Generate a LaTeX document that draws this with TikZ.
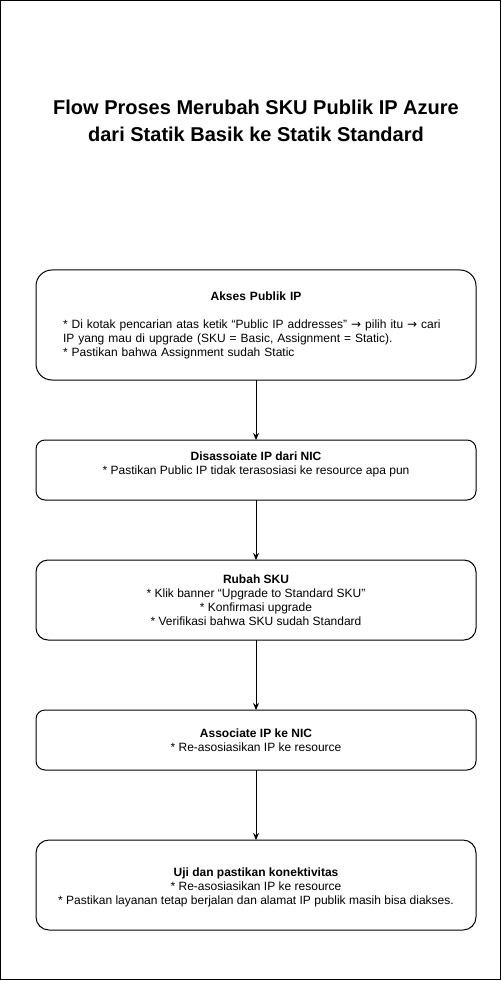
\documentclass[tikz,border=0pt]{standalone}
\usepackage{fontspec}
\setmainfont{Liberation Sans}
\newfontfamily\panahfont{DejaVu Sans}
\newcommand{\panah}{{\panahfont →}}
\usetikzlibrary{positioning,arrows.meta}

\tikzset{
    stepbox/.style={draw, line width=1pt, outer sep=0pt, minimum width=440pt, inner sep=0pt, align=center, font=\fontsize{12}{14}\selectfont},
    flow/.style={-{Stealth[length=7pt,width=6pt]}, line width=1pt}
}

\begin{document}
\begin{tikzpicture}[x=1pt, y=-1pt]
    \useasboundingbox (0,0) rectangle (502,981);
    \draw[line width=1pt] (0.5,0.5) rectangle (500.5,979.5);
    % judul
    \node[font=\fontsize{20}{27}\selectfont\bfseries, align=center] (judul) at (256,121)
        {Flow Proses Merubah SKU Publik IP Azure\\dari Statik Basik ke Statik Standard};
    % langkah-langkah
    \node[stepbox, minimum height=110pt, rounded corners=16pt, text width=394pt, align=left] (akses) at (256,325)
        {\makebox[394pt]{\bfseries Akses Publik IP}\\[14pt]
         \hspace*{4pt}{*} Di kotak pencarian atas ketik “Public IP addresses” \panah{} pilih itu \panah{} cari\\
         \hspace*{4pt}IP yang mau di upgrade (SKU = Basic, Assignment = Static).\\
         \hspace*{4pt}{*} Pastikan bahwa Assignment sudah Static};
    \node[stepbox, minimum height=60pt, rounded corners=9pt, below=60pt of akses] (lepas)
        {\textbf{Disassoiate IP dari NIC}\\
         {*} Pastikan Public IP tidak terasosiasi ke resource apa pun\\ \mbox{}};
    \node[stepbox, minimum height=80pt, rounded corners=12pt, below=60pt of lepas] (rubah)
        {\textbf{Rubah SKU}\\
         {*} Klik banner “Upgrade to Standard SKU”\\
         {*} Konfirmasi upgrade\\
         {*} Verifikasi bahwa SKU sudah Standard};
    \node[stepbox, minimum height=60pt, rounded corners=9pt, below=70pt of rubah] (pasang)
        {\textbf{Associate IP ke NIC}\\
         {*} Re-asosiasikan IP ke resource};
    \node[stepbox, minimum height=90pt, rounded corners=13pt, below=70pt of pasang] (uji)
        {\mbox{}\\
         \textbf{Uji dan pastikan konektivitas}\\
         {*} Re-asosiasikan IP ke resource\\
         {*} Pastikan layanan tetap berjalan dan alamat IP publik masih bisa diakses.};
    % panah
    \draw[flow] (akses) -- (lepas);
    \draw[flow] (lepas) -- (rubah);
    \draw[flow] (rubah) -- (pasang);
    \draw[flow] (pasang) -- (uji);
\end{tikzpicture}
\end{document}
